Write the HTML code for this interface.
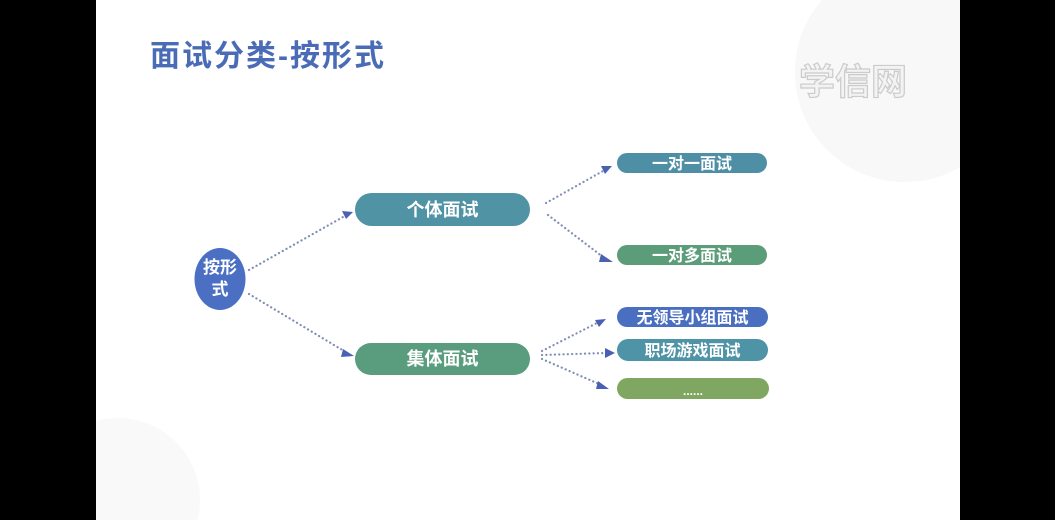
<!DOCTYPE html>
<html><head><meta charset="utf-8">
<style>
html,body{margin:0;padding:0;background:#000;width:1055px;height:520px;overflow:hidden;}
body{position:relative;font-family:"Liberation Sans","Noto Sans CJK SC",sans-serif;}
svg{position:absolute;left:0;top:0;display:block;}
</style></head>
<body>
<svg width="1055" height="520" viewBox="0 0 1055 520" xmlns="http://www.w3.org/2000/svg">
  <rect x="0" y="0" width="1055" height="520" fill="#000"/>
  <rect x="96" y="0" width="864" height="520" fill="#ffffff"/>
  <path d="M821.8,0 A110,110 0 0 0 960,167.3 L960,0 Z" fill="#f8f8f9"/>
  <path d="M96,421 A82,82 0 0 1 197.5,520 L96,520 Z" fill="#f9f9fa"/>
  <!-- title -->
  <text x="150" y="66" font-size="30" font-weight="bold" fill="#4a6cb6" font-family="'Liberation Sans','Noto Sans CJK SC',sans-serif" letter-spacing="2">面试分类-按形式</text>
  <!-- watermark -->
  <text x="799" y="94" font-size="36" font-weight="bold" fill="#f3f3f3" stroke="#cbcbcb" stroke-width="1.2" font-family="'Noto Sans CJK SC',sans-serif">学信网</text>

  <!-- connectors -->
  <g stroke="#7f8cb6" stroke-width="2.2" stroke-linecap="round" stroke-dasharray="0.1 4.2" fill="none">
    <line x1="249" y1="270" x2="343" y2="217"/>
    <line x1="249" y1="294" x2="344" y2="351"/>
    <line x1="546" y1="203" x2="603" y2="171"/>
    <line x1="548" y1="215" x2="603" y2="257"/>
    <line x1="542" y1="351" x2="597" y2="323"/>
    <line x1="542" y1="355" x2="606" y2="353"/>
    <line x1="542" y1="359" x2="599" y2="384"/>
  </g>
  <g fill="#4a61b3">
    <polygon points="353,212 342,211 346,219"/>
    <polygon points="354,356 343,349 341,357"/>
    <polygon points="612,166 601,166 605,174"/>
    <polygon points="613,262 601,254 599,262"/>
    <polygon points="606,319 595,320 599,327"/>
    <polygon points="615,353 605,348 605,358"/>
    <polygon points="609,389 598,381 596,389"/>
  </g>

  <!-- root circle -->
  <ellipse cx="220" cy="279" rx="25.5" ry="31" fill="#4a6fc3"/>
  <text x="220" y="273" text-anchor="middle" font-size="17" font-weight="bold" fill="#fff" font-family="'Noto Sans CJK SC',sans-serif">按形</text>
  <text x="220" y="295" text-anchor="middle" font-size="17" font-weight="bold" fill="#fff" font-family="'Noto Sans CJK SC',sans-serif">式</text>

  <!-- middle boxes -->
  <rect x="355" y="193" width="175" height="33" rx="16.5" fill="#5093a4"/>
  <text x="442.5" y="216" text-anchor="middle" font-size="18" font-weight="bold" fill="#fff" font-family="'Noto Sans CJK SC',sans-serif">个体面试</text>
  <rect x="355" y="343" width="175" height="32" rx="16" fill="#5a9d7e"/>
  <text x="442.5" y="365" text-anchor="middle" font-size="18" font-weight="bold" fill="#fff" font-family="'Noto Sans CJK SC',sans-serif">集体面试</text>

  <!-- right boxes -->
  <rect x="617" y="153" width="150" height="20" rx="10" fill="#4f8fa6"/>
  <text x="692" y="169" text-anchor="middle" font-size="16" font-weight="bold" fill="#fff" font-family="'Noto Sans CJK SC',sans-serif">一对一面试</text>
  <rect x="617" y="245" width="150" height="20" rx="10" fill="#5b9c79"/>
  <text x="692" y="261" text-anchor="middle" font-size="16" font-weight="bold" fill="#fff" font-family="'Noto Sans CJK SC',sans-serif">一对多面试</text>
  <rect x="617" y="307" width="151" height="20" rx="10" fill="#4a6fc1"/>
  <text x="692.5" y="323" text-anchor="middle" font-size="16" font-weight="bold" fill="#fff" font-family="'Noto Sans CJK SC',sans-serif">无领导小组面试</text>
  <rect x="617" y="339" width="151" height="22" rx="11" fill="#4e93a6"/>
  <text x="692.5" y="356" text-anchor="middle" font-size="16" font-weight="bold" fill="#fff" font-family="'Noto Sans CJK SC',sans-serif">职场游戏面试</text>
  <rect x="617" y="378" width="152" height="21" rx="10.5" fill="#80a762"/>
  <text x="693" y="395" text-anchor="middle" font-size="12" font-weight="bold" fill="#fff">......</text>
</svg>
</body></html>
